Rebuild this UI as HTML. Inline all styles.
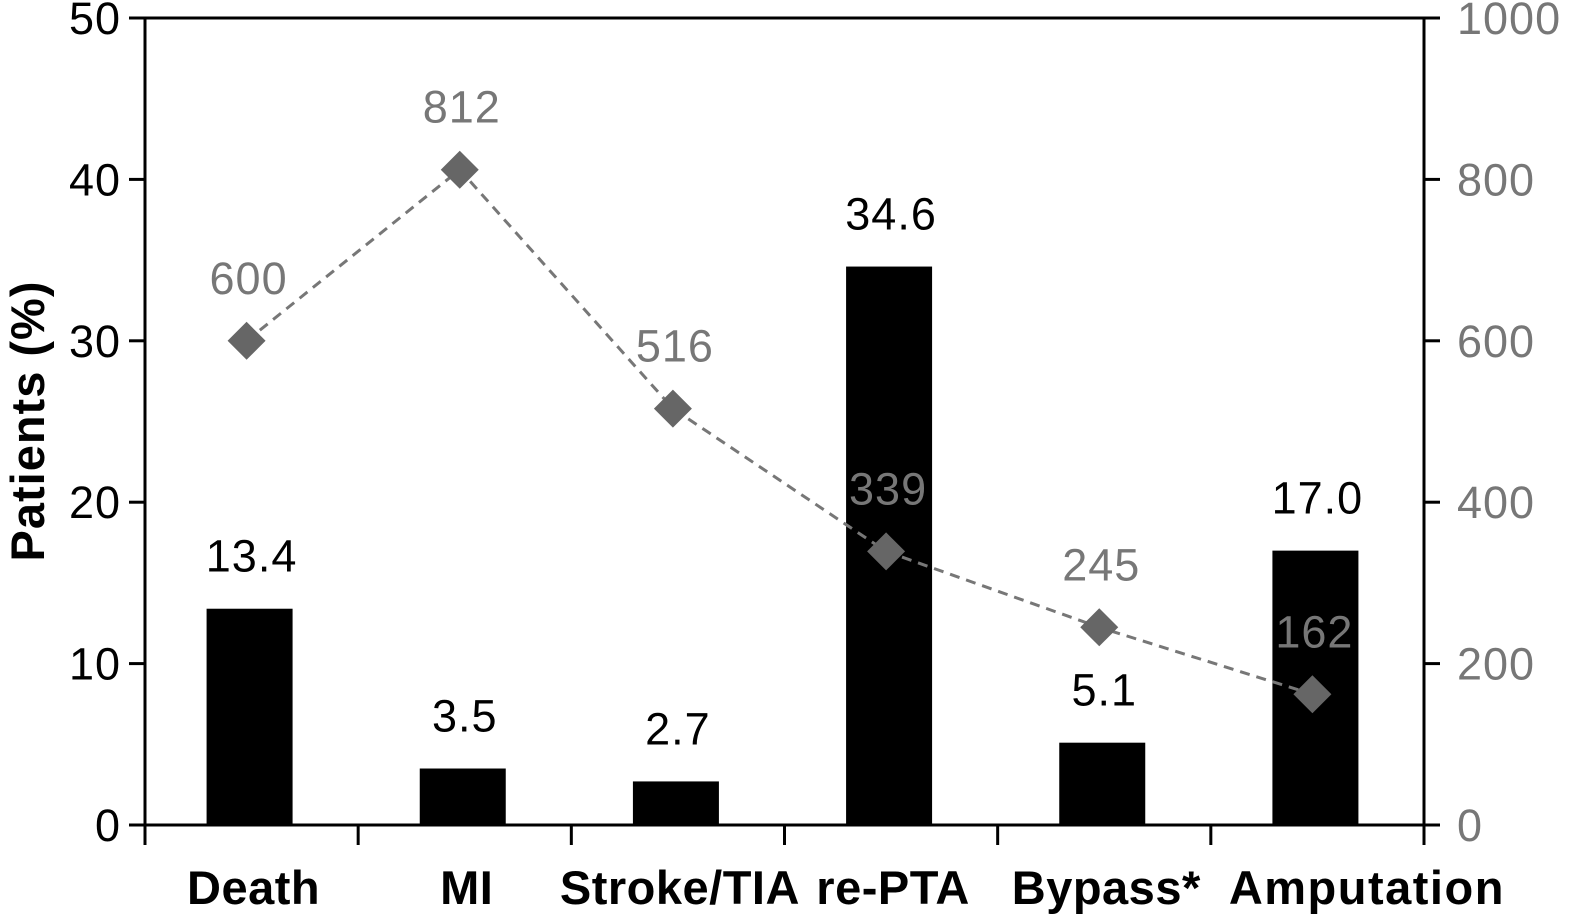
<!DOCTYPE html>
<html><head><meta charset="utf-8"><style>
html,body{margin:0;padding:0;background:#fff;}
svg text{font-family:"Liberation Sans","DejaVu Sans",sans-serif;}
</style></head><body>
<svg id="chart" width="1573" height="918" viewBox="0 0 1573 918" xmlns="http://www.w3.org/2000/svg">
<g id="axes"></g>
<g id="bars"></g>
<g id="line"></g>
<text transform="translate(44,421) rotate(-90)" text-anchor="middle" font-size="47" font-weight="bold" letter-spacing="1" fill="#000">Patients (%)</text>
</svg>
<script>
const categories = ["Death","MI","Stroke/TIA","re-PTA","Bypass*","Amputation"];
const percentValues = [13.4, 3.5, 2.7, 34.6, 5.1, 17.0];
const countValues = [600, 812, 516, 339, 245, 162];
const leftTicks = [0,10,20,30,40,50];
const rightTicks = [0,200,400,600,800,1000];

const NS="http://www.w3.org/2000/svg";
const x0=145,x1=1424,yTop=18,yBot=825;
const band=(x1-x0)/categories.length;
const xc=i=>x0+band*(i+0.5)-2;
const yL=v=>yBot-(v/50)*(yBot-yTop);
const yR=v=>yBot-(v/1000)*(yBot-yTop);
function el(tag,attrs,parent,text){const e=document.createElementNS(NS,tag);for(const k in attrs)e.setAttribute(k,attrs[k]);if(text!==undefined)e.textContent=text;parent.appendChild(e);return e;}
const axes=document.getElementById('axes'),bars=document.getElementById('bars'),line=document.getElementById('line');

let a=el('line',{x1:x0,y1:yTop,x2:x0,y2:yBot,stroke:'#000','stroke-width':3},axes);

a=el('line',{x1:x1,y1:yTop,x2:x1,y2:yBot,stroke:'#000','stroke-width':3},axes);

a=el('line',{x1:x0,y1:yTop,x2:x1,y2:yTop,stroke:'#000','stroke-width':3},axes);

a=el('line',{x1:x0,y1:yBot,x2:x1,y2:yBot,stroke:'#000','stroke-width':3},axes);


leftTicks.forEach(t=>{const y=yL(t);
 let l=el('line',{x1:x0-16,y1:y,x2:x0,y2:y,stroke:'#000','stroke-width':3},axes);
 
 let tx=el('text',{x:x0-24,y:y+16,'text-anchor':'end','font-size':45,'letter-spacing':1,fill:'#000'},axes,String(t));
 });
rightTicks.forEach(t=>{const y=yR(t);
 let l=el('line',{x1:x1,y1:y,x2:x1+16,y2:y,stroke:'#000','stroke-width':3},axes);
 
 let tx=el('text',{x:x1+33,y:y+16,'text-anchor':'start','font-size':45,'letter-spacing':1,fill:'#777'},axes,String(t));
 });
for(let i=0;i<=categories.length;i++){const x=x0+band*i;
 let l=el('line',{x1:x,y1:yBot,x2:x,y2:yBot+20,stroke:'#000','stroke-width':3},axes);
 }
categories.forEach((c,i)=>{
 const last=i===categories.length-1;
 let tx=el('text',{x:last?(x0+band*i+18):(xc(i)+4),y:904,'text-anchor':last?'start':'middle','font-size':47,'font-weight':'bold','letter-spacing':last?1.5:0.5,fill:'#000'},axes,c);
 });

percentValues.forEach((v,i)=>{const w=86,y=yL(v);
 let r=el('rect',{x:xc(i)-w/2,y:y,width:w,height:yBot-y,fill:'#000'},bars);
 
 let tx=el('text',{x:xc(i)+2,y:y-37,'text-anchor':'middle','font-size':45,'letter-spacing':1,fill:'#000'},bars,v.toFixed(1));
 });

const pts=countValues.map((v,i)=>(xc(i)-3)+','+yR(v)).join(' ');
let pl=el('polyline',{points:pts,fill:'none',stroke:'#777','stroke-width':3,'stroke-dasharray':'10,7'},line);

countValues.forEach((v,i)=>{const x=xc(i)-3,y=yR(v),s=19;
 let d=el('polygon',{points:`${x},${y-s} ${x+s},${y} ${x},${y+s} ${x-s},${y}`,fill:'#666'},line);
 
 let tx=el('text',{x:x+2,y:y-47,'text-anchor':'middle','font-size':45,'letter-spacing':1,fill:'#777'},line,String(v));
 });
</script>
</body></html>
